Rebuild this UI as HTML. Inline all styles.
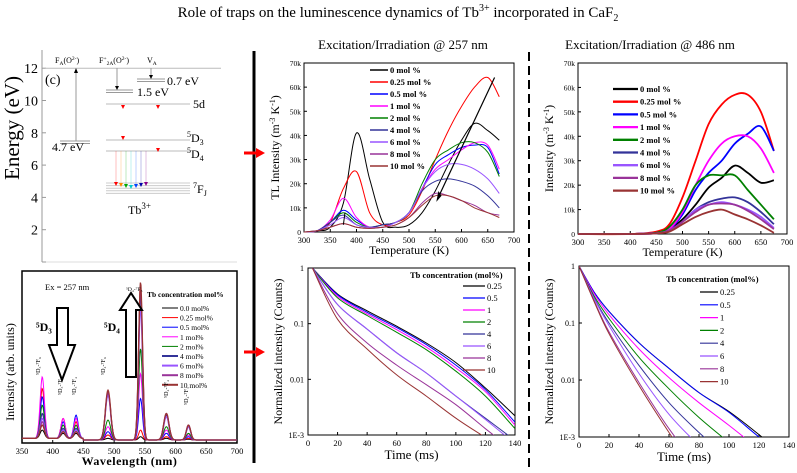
<!DOCTYPE html>
<html><head><meta charset="utf-8">
<style>
html,body{margin:0;padding:0;background:#fff;width:797px;height:473px;overflow:hidden;}
svg{display:block;font-family:"Liberation Serif",serif;overflow:hidden;}
</style></head>
<body>
<svg id="fig" width="797" height="473" viewBox="0 0 797 473" xmlns="http://www.w3.org/2000/svg">
<text x="398" y="17" font-size="15" text-anchor="middle">Role of traps on the luminescence dynamics of Tb<tspan font-size="10" dy="-6">3+</tspan><tspan dy="6"> incorporated in CaF</tspan><tspan font-size="10" dy="4">2</tspan></text>
<line x1="254" y1="51" x2="254" y2="463" stroke="#000" stroke-width="3"/>
<line x1="529" y1="52" x2="529" y2="468" stroke="#000" stroke-width="2" stroke-dasharray="9,5"/>
<g><line x1="244" y1="153" x2="258" y2="153" stroke="#f00" stroke-width="3"/><polygon points="256,148 265,153 256,158" fill="#f00"/></g>
<g><line x1="244" y1="352" x2="258" y2="352" stroke="#f00" stroke-width="3"/><polygon points="256,347 265,352 256,357" fill="#f00"/></g>
<g id="energy"></g>
<g id="emis"></g>
<g id="tl257"></g>
<g id="tl486"></g>
<g id="dec257"></g>
<g id="dec486"></g>
</svg>
<script>
// ---------- data ----------
const colors = ["#000000","#ff0000","#0000ff","#ff00ff","#008000","#333399","#9955ff","#993399","#993333"];
const tlLabels = ["0 mol %","0.25 mol %","0.5 mol %","1 mol %","2 mol %","4 mol %","6 mol %","8 mol %","10 mol %"];
const decLabels = ["0.25","0.5","1","2","4","6","8","10"];
const emisLabels = ["0.0 mol%","0.25 mol%","0.5 mol%","1 mol%","2 mol%","4 mol%","6 mol%","8 mol%","10 mol%"];
const tlXTicks = [300,350,400,450,500,550,600,650,700];
const tlYTicks = [0,10,20,30,40,50,60,70];
const decXTicks = [0,20,40,60,80,100,120,140];
const decYTicks = [1,0.1,0.01,0.001];
const decYTickLabels = ["1","0.1","0.01","1E-3"];
const emisXTicks = [350,400,450,500,550,600,650,700];
const energyTicks = [0,2,4,6,8,10,12];

const tl257Temps = [300,325,350,375,400,425,450,475,500,525,550,575,600,625,650,672];
const tl257_0   = [0,0.5,2,12,41,22,4,2,3,8,17,28,38,45,42,38];
const tl257_025 = [0,0.5,4,18,25,8,3,4,7,17,30,42,52,60,64,56];
const tl257_05  = [0,0.5,4,9,5,2,3,4,8,18,28,32,35,36,35,24];
const tl257_1   = [0,0.5,5,14,6,2,3,4,8,18,26,30,34,37,36,26];
const tl257_2   = [0,0.5,4,8,4,2,3,4,8,20,30,34,37,37,33,23];
const tl257_4   = [0,0.5,4,7,3,2,3,4,8,17,21,22,21,19,15,10];
const tl257_6   = [0,0.5,3,6,3,2,2,4,8,18,25,28,28,26,22,16];
const tl257_8   = [0,0.5,2,3.5,2,1.5,2,3,6,12,16,15,13,11,8,7];
const tl257_10  = [0,0.5,2,3.5,2,1.5,2,3,6,11,15,15,13,10,8,6];

const tl486Temps = [300,400,450,475,500,525,550,575,600,625,650,675];
const tl486_0   = [0,0,0.5,2,6,12,19,23,28,25,21,22];
const tl486_025 = [0,0,1,4,15,30,45,53,57,57,50,34];
const tl486_05  = [0,0,0.5,2,8,18,25,30,37,41,44,34];
const tl486_1   = [0,0,0.5,2,9,20,30,37,40,40,35,25];
const tl486_2   = [0,0,0.5,3,10,20,24,24,24,18,12,6];
const tl486_4   = [0,0,0.3,1.5,5,10,13,14.5,15,13,9,4];
const tl486_6   = [0,0,0.3,1.5,5,10,12,13,12,10,7,2.5];
const tl486_8   = [0,0,0.3,1.5,5,9,12,12.5,12,9.5,6,2];
const tl486_10  = [0,0,0.3,1,4,7,9,10,8,6,3.5,0.5];

const dec257Times = [3,20,40,60,80,100,120,140];
const dec257_025 = [1,0.34,0.17,0.09,0.045,0.02,0.007,0.0022];
const dec257_05  = [1,0.33,0.16,0.085,0.042,0.018,0.0065,0.0017];
const dec257_1   = [1,0.31,0.15,0.078,0.038,0.016,0.006,0.0015];
const dec257_2   = [1,0.29,0.14,0.07,0.034,0.014,0.005,0.0013];
const dec257_4   = [1,0.22,0.08,0.03,0.013,0.005,0.002,0.0008];
const dec257_6   = [1,0.22,0.08,0.03,0.013,0.005,0.0019,0.0007];
const dec257_8   = [1,0.15,0.045,0.018,0.008,0.0035,0.0013,0.0005];
const dec257_10  = [1,0.12,0.035,0.012,0.005,0.002,0.0009,0.0004];

const dec486Times = [0,10,20,40,60,80,100,120,140];
const dec486_025 = [1,0.35,0.16,0.045,0.016,0.006,0.0028,0.0011,0.0004];
const dec486_05  = [1,0.35,0.16,0.045,0.016,0.006,0.0027,0.001,0.0004];
const dec486_1   = [1,0.33,0.14,0.035,0.011,0.004,0.0016,0.0006,0.0002];
const dec486_2   = [1,0.3,0.12,0.025,0.007,0.0022,0.0008,0.0003,0.0001];
const dec486_4   = [1,0.28,0.1,0.018,0.004,0.0012,0.0004,0.0001,0.0001];
const dec486_6   = [1,0.27,0.09,0.013,0.0025,0.0007,0.0002,0.0001,0.0001];
const dec486_8   = [1,0.25,0.07,0.009,0.0014,0.0003,0.0001,0.0001,0.0001];
const dec486_10  = [1,0.24,0.065,0.008,0.0012,0.0002,0.0001,0.0001,0.0001];

const emisPeaks = [383,417,438,490,543,585,621];
const emis_00  = [5,3,3,1,2,1,0.5];
const emis_025 = [30,12,10,3,6,2,1];
const emis_05  = [25,10,14,5,25,4,2];
const emis_1   = [37,12,12,8,40,6,3];
const emis_2   = [20,8,8,12,55,8,4];
const emis_4   = [15,6,6,28,88,15,8];
const emis_6   = [12,5,5,27,80,14,8];
const emis_8   = [10,4,4,29,92,16,9];
const emis_10  = [8,4,4,30,95,16,9];

// ---------- helpers ----------
const NS="http://www.w3.org/2000/svg";
function el(parent,tag,attrs,text){const e=document.createElementNS(NS,tag);for(const k in attrs)e.setAttribute(k,attrs[k]);if(text!==undefined)e.textContent=text;parent.appendChild(e);return e;}
function smooth(pts){let d="M"+pts[0][0].toFixed(1)+","+pts[0][1].toFixed(1);for(let i=0;i<pts.length-1;i++){const p0=pts[i-1]||pts[i],p1=pts[i],p2=pts[i+1],p3=pts[i+2]||p2;const c1x=p1[0]+(p2[0]-p0[0])/6,c1y=p1[1]+(p2[1]-p0[1])/6,c2x=p2[0]-(p3[0]-p1[0])/6,c2y=p2[1]-(p3[1]-p1[1])/6;d+=" C"+c1x.toFixed(1)+","+c1y.toFixed(1)+" "+c2x.toFixed(1)+","+c2y.toFixed(1)+" "+p2[0].toFixed(1)+","+p2[1].toFixed(1);}return d;}

function frame(g,L,T,R,B){const r=el(g,"rect",{x:L,y:T,width:R-L,height:B-T,fill:"none",stroke:"#000","stroke-width":1});}

// ---------- TL charts ----------
function tlChart(id,temps,series,geo){
  const g=document.getElementById(id);
  const xs=v=>geo.L+(v-300)/400*(geo.R-geo.L);
  const ys=v=>geo.B-v/70*(geo.B-geo.T);
  el(g,"text",{x:geo.cx,y:geo.titleY,"font-size":13,"text-anchor":"middle"},geo.title);
  frame(g,geo.L,geo.T,geo.R,geo.B);
  tlXTicks.forEach(t=>{el(g,"line",{x1:xs(t),y1:geo.B,x2:xs(t),y2:geo.B-3,stroke:"#000"});const tx=el(g,"text",{x:xs(t),y:geo.B+11,"font-size":8.5,"text-anchor":"middle"},t);});
  tlYTicks.forEach(t=>{el(g,"line",{x1:geo.L,y1:ys(t),x2:geo.L+3,y2:ys(t),stroke:"#000"});const tx=el(g,"text",{x:geo.L-3,y:ys(t)+3,"font-size":7.5,"text-anchor":"end"},t===0?"0":t+"k");});
  const xt=el(g,"text",{x:(geo.L+geo.R)/2,y:geo.B+22,"font-size":12,"text-anchor":"middle"},"Temperature (K)");
  const yt=el(g,"text",{x:0,y:0,"font-size":12,"text-anchor":"middle",transform:"translate("+geo.yTitleX+","+((geo.T+geo.B)/2)+") rotate(-90)"});
  
  yt.innerHTML=geo.yTitle+' (m<tspan font-size="8" dy="-4">-3</tspan><tspan dy="4"> K</tspan><tspan font-size="8" dy="-4">-1</tspan><tspan dy="4">)</tspan>';
  series.forEach((s,i)=>{const p=el(g,"path",{d:smooth(temps.map((t,j)=>[xs(t),ys(s[j])])),fill:"none",stroke:colors[i],"stroke-width":geo.lw});});
  tlLabels.forEach((lab,i)=>{const y=geo.legY+i*geo.legDy;const lg=el(g,"g",{});el(lg,"line",{x1:geo.legX,y1:y,x2:geo.legX+geo.legW,y2:y,stroke:colors[i],"stroke-width":geo.lw+0.5});el(lg,"text",{x:geo.legX+geo.legW+2,y:y+3,"font-size":8.5,"font-weight":"bold"},lab);});
  return {xs,ys,g};
}
const a=tlChart("tl257",tl257Temps,[tl257_0,tl257_025,tl257_05,tl257_1,tl257_2,tl257_4,tl257_6,tl257_8,tl257_10],
 {L:304,R:514,T:63,B:232,cx:403,titleY:49,title:"Excitation/Irradiation @ 257 nm",yTitle:"TL Intensity",yTitleX:279,lw:1,legX:370,legW:18,legY:70,legDy:12});
(function(){const g=a.g;const ar=el(g,"g",{});
el(ar,"line",{x1:a.xs(663),y1:a.ys(64),x2:a.xs(555),y2:a.ys(14),stroke:"#000","stroke-width":1.2});
el(ar,"polygon",{points:(a.xs(552))+","+(a.ys(12.5))+" "+(a.xs(556))+","+(a.ys(17))+" "+(a.xs(562))+","+(a.ys(15)),fill:"#000"});
el(ar,"line",{x1:a.xs(378),y1:a.ys(8),x2:a.xs(375),y2:a.ys(3),stroke:"#000","stroke-width":1});})();

tlChart("tl486",tl486Temps,[tl486_0,tl486_025,tl486_05,tl486_1,tl486_2,tl486_4,tl486_6,tl486_8,tl486_10],
 {L:578,R:787,T:63,B:234,cx:650,titleY:49,title:"Excitation/Irradiation @ 486 nm",yTitle:"Intensity",yTitleX:553,lw:1.8,legX:613,legW:25,legY:89,legDy:12.7});

// ---------- decay charts ----------
function decChart(id,times,series,geo){
  const g=document.getElementById(id);
  const xs=v=>geo.L+v/140*(geo.R-geo.L);
  const ys=v=>geo.T+(-Math.log10(v))/3*(geo.B-geo.T);
  frame(g,geo.L,geo.T,geo.R,geo.B);
  decXTicks.forEach(t=>{el(g,"line",{x1:xs(t),y1:geo.B,x2:xs(t),y2:geo.B-3,stroke:"#000"});const tx=el(g,"text",{x:xs(t),y:geo.B+11,"font-size":8.5,"text-anchor":"middle"},t);});
  decYTicks.forEach((t,i)=>{el(g,"line",{x1:geo.L,y1:ys(t),x2:geo.L+3,y2:ys(t),stroke:"#000"});const tx=el(g,"text",{x:geo.L-4,y:ys(t)+3,"font-size":8,"text-anchor":"end"},decYTickLabels[i]);});
  const xt=el(g,"text",{x:(geo.L+geo.R)/2,y:geo.B+24,"font-size":13,"text-anchor":"middle"},"Time (ms)");
  const yt=el(g,"text",{"font-size":12,"text-anchor":"middle",transform:"translate("+geo.yTitleX+","+((geo.T+geo.B)/2)+") rotate(-90)"},"Normalized intensity (Counts)");
  const cid=id+"-clip";const cp=el(g,"clipPath",{id:cid});el(cp,"rect",{x:geo.L,y:geo.T,width:geo.R-geo.L,height:geo.B-geo.T});
  series.forEach((s,i)=>{const p=el(g,"path",{d:smooth(times.map((t,j)=>[xs(t),ys(s[j])])),fill:"none",stroke:colors[i===0?0:i+1>8?8:i+1],"stroke-width":1,"clip-path":"url(#"+cid+")"});});
  const h=el(g,"text",{x:geo.hX,y:geo.hY,"font-size":8.5,"font-weight":"bold"},"Tb concentration (mol%)");
  decLabels.forEach((lab,i)=>{const y=geo.legY+i*geo.legDy;const lg=el(g,"g",{});el(lg,"line",{x1:geo.legX,y1:y,x2:geo.legX+geo.legW,y2:y,stroke:colors[i===0?0:i+1>8?8:i+1],"stroke-width":1.2});el(lg,"text",{x:geo.legX+geo.legW+2,y:y+3,"font-size":8.5},lab);});
}
decChart("dec257",dec257Times,[dec257_025,dec257_05,dec257_1,dec257_2,dec257_4,dec257_6,dec257_8,dec257_10],
 {L:308,R:515,T:268,B:435,yTitleX:282,hX:410,hY:278,legX:463,legW:22,legY:286,legDy:12});
decChart("dec486",dec486Times,[dec486_025,dec486_05,dec486_1,dec486_2,dec486_4,dec486_6,dec486_8,dec486_10],
 {L:579,R:789,T:266,B:437,yTitleX:553,hX:666,hY:282,legX:700,legW:18,legY:292,legDy:12.8});

// ---------- emission spectrum ----------
(function(){
  const g=document.getElementById("emis");
  const L=22,R=237,T=271,B=443;
  const xs=v=>L+(v-350)/350*(R-L);
  const ys=v=>B-3-v/100*(B-T-6);
  el(g,"rect",{x:L,y:T,width:R-L,height:B-T,fill:"none",stroke:"#000","stroke-width":1.5});
  emisXTicks.forEach(t=>{el(g,"line",{x1:xs(t),y1:B,x2:xs(t),y2:B-3,stroke:"#000"});const tx=el(g,"text",{x:xs(t),y:B+11,"font-size":8.5,"text-anchor":"middle"},t);});
  const xt=el(g,"text",{x:(L+R)/2,y:B+22,"font-size":12,"font-weight":"bold","letter-spacing":"0.5","text-anchor":"middle"},"Wavelength (nm)");
  const yt=el(g,"text",{"font-size":12,"text-anchor":"middle",transform:"translate(14,372) rotate(-90)"},"Intensity (arb. units)");
  const all=[emis_00,emis_025,emis_05,emis_1,emis_2,emis_4,emis_6,emis_8,emis_10];
  const widths=[5,5,5,6,4.5,6,5];
  all.forEach((s,i)=>{const pts=[];for(let w=350;w<=700;w+=0.8){let v=w<450?1:0;emisPeaks.forEach((pk,j)=>{v+=s[j]*Math.exp(-Math.pow((w-pk)/widths[j],2));});pts.push(xs(w).toFixed(1)+","+ys(v).toFixed(1));}
    const p=el(g,"polyline",{points:pts.join(" "),fill:"none",stroke:colors[i],"stroke-width":i>=5?1.3:1});});
  el(g,"text",{x:45,y:290,"font-size":8.5},"Ex = 257 nm");
  el(g,"text",{x:147,y:297,"font-size":7.5,"font-weight":"bold"},"Tb concentration mol%");
  emisLabels.forEach((lab,i)=>{const y=308+i*9.6;const lg=el(g,"g",{});el(lg,"line",{x1:162,y1:y,x2:178,y2:y,stroke:colors[i],"stroke-width":i>=5?2:1});el(lg,"text",{x:180,y:y+3,"font-size":7.5},lab);});
  el(g,"text",{x:36,y:331,"font-size":12,"font-weight":"bold"},"⁵D₃");
  el(g,"text",{x:104,y:331,"font-size":12,"font-weight":"bold"},"⁵D₄");
  const da=el(g,"polygon",{points:"57,308 68,308 68,345 75,345 62,380 49,345 57,345",fill:"#fff",stroke:"#000","stroke-width":2});
  const ua=el(g,"polygon",{points:"126,377 136,377 136,310 142,310 131,293 120,310 126,310",fill:"#fff",stroke:"#000","stroke-width":2});
  const tlab=[["⁵D₃-⁷F₆",40,375],["⁵D₃-⁷F₅",62,395],["⁵D₃-⁷F₄",76,395],["⁵D₄-⁷F₆",105,375],["⁵D₄-⁷F₄",168,398],["⁵D₄-⁷F₃",188,405]];
  tlab.forEach(t=>{const tx=el(g,"text",{"font-size":6,transform:"translate("+t[1]+","+t[2]+") rotate(-90)"},t[0]);});
  el(g,"text",{x:126,y:291,"font-size":5.5},"⁵D₄-⁷F₅");
})();

// ---------- energy diagram ----------
(function(){
  const g=document.getElementById("energy");
  const ys=E=>262-E*16.15;
  el(g,"line",{x1:42,y1:50,x2:42,y2:262,stroke:"#999","stroke-width":1});
  el(g,"line",{x1:42,y1:262,x2:237,y2:262,stroke:"#ddd","stroke-width":1});
  energyTicks.forEach(t=>{el(g,"line",{x1:42,y1:ys(t),x2:46,y2:ys(t),stroke:"#999"});if(t>0){const tx=el(g,"text",{x:38,y:ys(t)+5,"font-size":14,"text-anchor":"end"},t);}});
  const yt=el(g,"text",{"font-size":21,"text-anchor":"middle",transform:"translate(19,128) rotate(-90)"},"Energy (eV)");
  el(g,"line",{x1:45,y1:ys(12),x2:221,y2:ys(12),stroke:"#bbb"});
  const lab=el(g,"text",{x:55,y:63,"font-size":8});lab.innerHTML='F<tspan font-size="5.5" dy="2">A</tspan><tspan dy="-2">(O</tspan><tspan font-size="5.5" dy="-3">2-</tspan><tspan dy="3">)</tspan>';
  const lab2=el(g,"text",{x:99,y:63,"font-size":8});lab2.innerHTML='F<tspan font-size="5.5" dy="-3">+</tspan><tspan font-size="5.5" dy="5">2A</tspan><tspan dy="-2">(O</tspan><tspan font-size="5.5" dy="-3">2-</tspan><tspan dy="3">)</tspan>';
  const lab3=el(g,"text",{x:147,y:63,"font-size":8});lab3.innerHTML='V<tspan font-size="5.5" dy="2">A</tspan>';
  el(g,"text",{x:45,y:84,"font-size":14},"(c)");
  [[137,165,79],[137,165,81.5],[106,133,90],[106,133,92.5],[60,90,141],[60,90,143.5]].forEach(l=>el(g,"line",{x1:l[0],y1:l[2],x2:l[1],y2:l[2],stroke:"#999"}));
  el(g,"text",{x:167,y:85,"font-size":12},"0.7 eV");
  el(g,"text",{x:137,y:96,"font-size":12},"1.5 eV");
  el(g,"text",{x:52,y:151,"font-size":12},"4.7 eV");
  el(g,"line",{x1:76,y1:141,x2:76,y2:71,stroke:"#999"});el(g,"polygon",{points:"74,73 76,68 78,73",fill:"#000"});
  el(g,"line",{x1:117,y1:68,x2:117,y2:88,stroke:"#999"});el(g,"polygon",{points:"115,86 117,90 119,86",fill:"#000"});
  el(g,"line",{x1:151,y1:68,x2:151,y2:78,stroke:"#999"});el(g,"polygon",{points:"149,75 151,79 153,75",fill:"#000"});
  el(g,"line",{x1:106,y1:104,x2:190,y2:104,stroke:"#bbb"});
  el(g,"text",{x:193,y:108,"font-size":12},"5d");
  el(g,"line",{x1:106,y1:140,x2:190,y2:140,stroke:"#bbb"});
  el(g,"line",{x1:106,y1:151,x2:190,y2:151,stroke:"#bbb"});
  const d3=el(g,"text",{x:187,y:142,"font-size":12});d3.innerHTML='<tspan font-size="8" dy="-5">5</tspan><tspan dy="5">D</tspan><tspan font-size="8" dy="3">3</tspan>';
  const d4=el(g,"text",{x:187,y:158,"font-size":12});d4.innerHTML='<tspan font-size="8" dy="-5">5</tspan><tspan dy="5">D</tspan><tspan font-size="8" dy="3">4</tspan>';
  for(let k=0;k<5;k++)el(g,"line",{x1:106,y1:183+k*2.6,x2:190,y2:183+k*2.6,stroke:"#ccc"});
  const f=el(g,"text",{x:193,y:193,"font-size":12});f.innerHTML='<tspan font-size="8" dy="-5">7</tspan><tspan dy="5">F</tspan><tspan font-size="8" dy="3">J</tspan>';
  const tb=el(g,"text",{x:128,y:214,"font-size":12});tb.innerHTML='Tb<tspan font-size="9" dy="-5">3+</tspan>';
  [[123,105],[158,105],[123,136],[158,148]].forEach(p=>el(g,"polygon",{points:(p[0]-2)+","+p[1]+" "+(p[0]+2)+","+p[1]+" "+p[0]+","+(p[1]+4),fill:"#f00"}));
  const tc=["#f00","#f80","#0a0","#0cc","#04f","#00a","#808"];
  tc.forEach((c,i)=>{const x=116+i*5;const y=186-Math.abs(i-3);el(g,"line",{x1:x,y1:151,x2:x,y2:y,stroke:c,"stroke-width":0.5,opacity:0.5});el(g,"polygon",{points:(x-2)+","+(y-1)+" "+(x+2)+","+(y-1)+" "+x+","+(y+3),fill:c});});
})();
</script>
</body></html>
